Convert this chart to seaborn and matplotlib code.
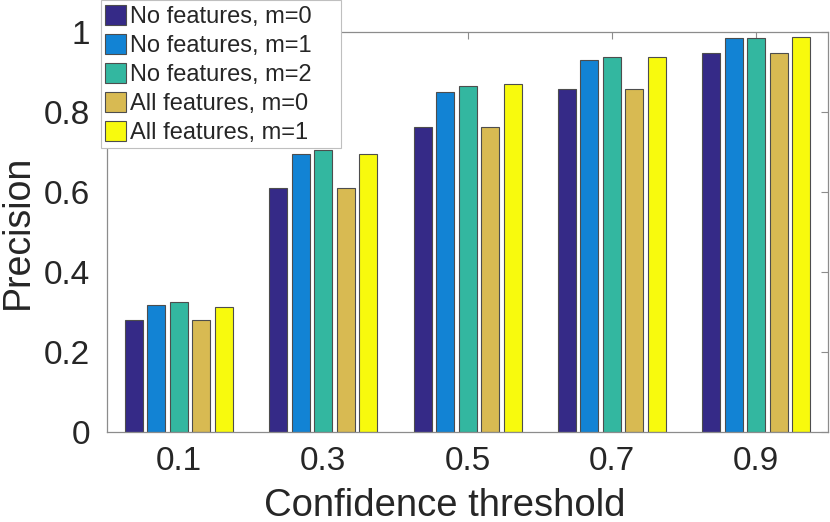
import numpy as np
import pandas as pd
import matplotlib
matplotlib.use("Agg")
import matplotlib.pyplot as plt
import seaborn as sns

# data
thresholds = ["0.1", "0.3", "0.5", "0.7", "0.9"]
series_names = ["No features, m=0", "No features, m=1", "No features, m=2",
                "All features, m=0", "All features, m=1"]
no_feat_m0 = [0.281, 0.610, 0.763, 0.858, 0.948]
no_feat_m1 = [0.318, 0.695, 0.852, 0.931, 0.985]
no_feat_m2 = [0.325, 0.706, 0.866, 0.938, 0.986]
all_feat_m0 = [0.281, 0.610, 0.763, 0.858, 0.948]
all_feat_m1 = [0.313, 0.695, 0.870, 0.938, 0.988]
ytick_vals = [0, 0.2, 0.4, 0.6, 0.8, 1.0]
ytick_labels = ["0", "0.2", "0.4", "0.6", "0.8", "1"]

colors = ["#352a87", "#1283d4", "#33b7a0", "#d8ba52", "#f8fa0d"]

#long form table for seaborn
values = [no_feat_m0, no_feat_m1, no_feat_m2, all_feat_m0, all_feat_m1]
rows = []
for name, vals in zip(series_names, values):
    for t, v in zip(thresholds, vals):
        rows.append({"threshold": t, "precision": v, "series": name})
df = pd.DataFrame(rows)

sns.set_style("white")
plt.rcParams['font.family'] = ['Liberation Sans', 'DejaVu Sans']

fig = plt.figure(figsize=(8.3, 5.22), dpi=100)
ax = fig.add_axes([0.1286, 0.1718, 0.8695, 0.7663])

sns.barplot(data=df, x="threshold", y="precision", hue="series",
            order=thresholds, hue_order=series_names, palette=colors,
            width=0.78, gap=0.2, edgecolor="#4d4d4d", linewidth=0.8,
            saturation=1, ax=ax)

ax.set_xlim(-0.5, 4.5)
ax.set_ylim(0, 1)
ax.set_yticks(ytick_vals)
ax.set_yticklabels(ytick_labels)

for s in ax.spines.values():
    s.set_visible(True)
    s.set_color("#8c8c8c")
    s.set_linewidth(0.9)

ax.tick_params(direction="in", top=True, right=True, length=5, width=0.8,
               color="#8c8c8c", labelcolor="#262626", labelsize=24)
ax.tick_params(axis="x", pad=10)
ax.tick_params(axis="y", pad=12)

ax.set_xlabel("Confidence threshold", fontsize=27.5, color="#262626")
ax.xaxis.set_label_coords(0.4686, -0.138)
ax.set_ylabel("Precision", fontsize=27, color="#262626", labelpad=6)

leg = ax.legend(loc="upper left",
                bbox_to_anchor=(100.7 / 830, 0.0, 240 / 830, 1.0),
                bbox_transform=fig.transFigure, borderaxespad=0, mode="expand",
                fontsize=17, handlelength=0.87, handleheight=0.92,
                handletextpad=0.15, labelspacing=0.25, borderpad=0.2,
                fancybox=False, framealpha=1, edgecolor="#bfbfbf")
leg.get_frame().set_linewidth(0.8)

fig.savefig("out.png", dpi=100)
